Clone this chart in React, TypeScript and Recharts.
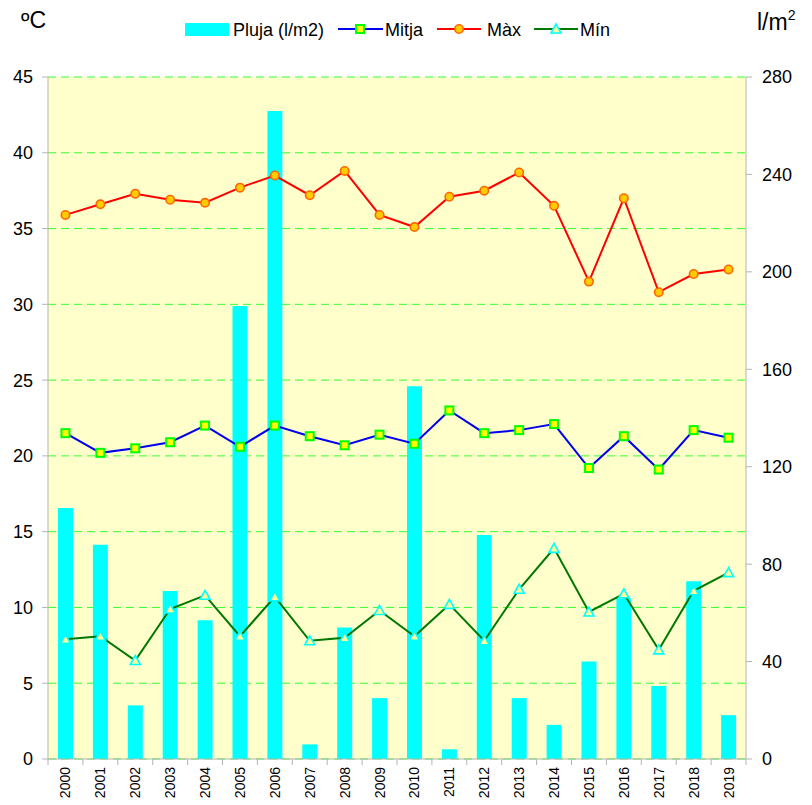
import React from 'react'
import {
  Bar,
  CartesianGrid,
  ComposedChart,
  Legend,
  Line,
  XAxis,
  YAxis,
} from 'recharts'

const anys = [
  '2000', '2001', '2002', '2003', '2004', '2005', '2006', '2007', '2008', '2009',
  '2010', '2011', '2012', '2013', '2014', '2015', '2016', '2017', '2018', '2019',
]
const pluja = [103, 88, 22, 69, 57, 186, 266, 6, 54, 25, 153, 4, 92, 25, 14, 40, 66, 30, 73, 18]
const mitja = [21.5, 20.2, 20.5, 20.9, 22.0, 20.6, 22.0, 21.3, 20.7, 21.4, 20.8, 23.0, 21.5, 21.7, 22.1, 19.2, 21.3, 19.1, 21.7, 21.2]
const maxima = [35.9, 36.6, 37.3, 36.9, 36.7, 37.7, 38.5, 37.2, 38.8, 35.9, 35.1, 37.1, 37.5, 38.7, 36.5, 31.5, 37.0, 30.8, 32.0, 32.3]
const minima = [7.9, 8.1, 6.5, 9.9, 10.8, 8.1, 10.7, 7.8, 8.0, 9.8, 8.1, 10.2, 7.8, 11.2, 13.9, 9.7, 10.9, 7.2, 11.1, 12.3]
const tempTicks = [0, 5, 10, 15, 20, 25, 30, 35, 40, 45]
const plujaTicks = [0, 40, 80, 120, 160, 200, 240, 280]

const data = anys.map((any, i) => ({
  any,
  pluja: pluja[i],
  mitja: mitja[i],
  max: maxima[i],
  min: minima[i],
}))

const FONT = '"Liberation Sans", Arial, sans-serif'
const AXIS_GRAY = '#b4b4b4'

const Quadrat = ({ cx, cy }: any) => (
  <rect x={cx - 4} y={cy - 4} width={8} height={8} fill="#ffff00" stroke="#00ff00" strokeWidth={2} />
)
const Cercle = ({ cx, cy }: any) => (
  <circle cx={cx} cy={cy} r={4.2} fill="#ffcc00" stroke="#ff6600" strokeWidth={1.6} />
)
const Triangle = ({ cx, cy }: any) => (
  <path
    d={`M${cx},${cy - 5} L${cx + 5},${cy + 4} L${cx - 5},${cy + 4} Z`}
    fill="#ffff99"
    stroke="#00ffff"
    strokeWidth={1.6}
  />
)

const dotQuadrat = (p: any) => <Quadrat key={`q${p.index}`} {...p} />
const dotCercle = (p: any) => <Cercle key={`c${p.index}`} {...p} />
const dotTriangle = (p: any) => <Triangle key={`t${p.index}`} {...p} />

const AnyTick = (props: any) => {
  const { x, y, payload, index } = props
  const half = 34.9 / 2
  return (
    <g>
      <line x1={x - half} x2={x - half} y1={y - 8} y2={y - 2} stroke={AXIS_GRAY} />
      {index === anys.length - 1 && (
        <line x1={x + half} x2={x + half} y1={y - 8} y2={y - 2} stroke={AXIS_GRAY} />
      )}
      <text
        transform={`translate(${x},${y}) rotate(-90)`}
        textAnchor="end"
        dy="0.36em"
        fontSize={14}
        fontFamily={FONT}
        fill="#000"
      >
        {payload.value}
      </text>
    </g>
  )
}

const Llegenda = () => (
  <svg width={812} height={50} style={{ display: 'block' }}>
    <g fontFamily={FONT} fontSize={18} fill="#000">
      <rect x={185} y={23} width={44} height={13} fill="#00ffff" />
      <text x={233} y={36}>Pluja (l/m2)</text>

      <line x1={338} x2={383} y1={29} y2={29} stroke="#0000ee" strokeWidth={2} />
      <Quadrat cx={360} cy={29} />
      <text x={385} y={36}>Mitja</text>

      <line x1={437} x2={481} y1={29} y2={29} stroke="#ff0000" strokeWidth={2} />
      <Cercle cx={459} cy={29} />
      <text x={487} y={36}>Màx</text>

      <line x1={534} x2={578} y1={29} y2={29} stroke="#007700" strokeWidth={2} />
      <Triangle cx={556} cy={29} />
      <text x={580} y={36}>Mín</text>
    </g>
  </svg>
)

export default function App() {
  return (
    <div style={{ position: 'absolute', left: 0, top: 0, fontFamily: FONT }}>
      <ComposedChart
        width={812}
        height={805}
        data={data}
        margin={{ top: 77, right: 0, bottom: 0, left: 0 }}
      >
        <CartesianGrid
          yAxisId="temp"
          vertical={false}
          fill="#ffffcc"
          stroke="#33ff33"
          strokeDasharray="8 5"
        />
        <XAxis
          dataKey="any"
          yAxisId="temp"
          height={46}
          tickSize={6}
          tickMargin={2}
          tickLine={false}
          axisLine={{ stroke: AXIS_GRAY }}
          interval={0}
          tick={<AnyTick />}
        />
        <YAxis
          yAxisId="temp"
          orientation="left"
          width={48}
          domain={[0, 45]}
          ticks={tempTicks}
          tickSize={6}
          tickMargin={9}
          axisLine={{ stroke: AXIS_GRAY }}
          tickLine={{ stroke: AXIS_GRAY }}
          tick={{ fill: '#000', fontSize: 18, fontFamily: FONT }}
          label={{
            content: ({ viewBox }: any) => (
              <text x={viewBox.x + 21} y={viewBox.y - 49} fontSize={23} fontFamily={FONT} fill="#000">
                ºC
              </text>
            ),
          }}
        />
        <YAxis
          yAxisId="pluja"
          orientation="right"
          width={66}
          domain={[0, 280]}
          ticks={plujaTicks}
          tickSize={6}
          tickMargin={10}
          axisLine={{ stroke: AXIS_GRAY }}
          tickLine={{ stroke: AXIS_GRAY }}
          tick={{ fill: '#000', fontSize: 18, fontFamily: FONT }}
          label={{
            content: ({ viewBox }: any) => (
              <text x={viewBox.x + 11} y={viewBox.y - 47} fontSize={23} fontFamily={FONT} fill="#000">
                l/m
                <tspan dy={-10} fontSize={14}>2</tspan>
              </text>
            ),
          }}
        />
        <Legend
          verticalAlign="middle"
          align="center"
          wrapperStyle={{ top: 0, left: 0, width: 812, height: 50 }}
          content={<Llegenda />}
        />
        <Bar
          yAxisId="pluja"
          dataKey="pluja"
          name="Pluja (l/m2)"
          fill="#00ffff"
          barSize={15}
          isAnimationActive={false}
        />
        <Line
          yAxisId="temp"
          type="linear"
          dataKey="mitja"
          name="Mitja"
          stroke="#0000ee"
          strokeWidth={2}
          dot={dotQuadrat}
          activeDot={false}
          isAnimationActive={false}
        />
        <Line
          yAxisId="temp"
          type="linear"
          dataKey="max"
          name="Màx"
          stroke="#ff0000"
          strokeWidth={2}
          dot={dotCercle}
          activeDot={false}
          isAnimationActive={false}
        />
        <Line
          yAxisId="temp"
          type="linear"
          dataKey="min"
          name="Mín"
          stroke="#007700"
          strokeWidth={2}
          dot={dotTriangle}
          activeDot={false}
          isAnimationActive={false}
        />
      </ComposedChart>
    </div>
  )
}
